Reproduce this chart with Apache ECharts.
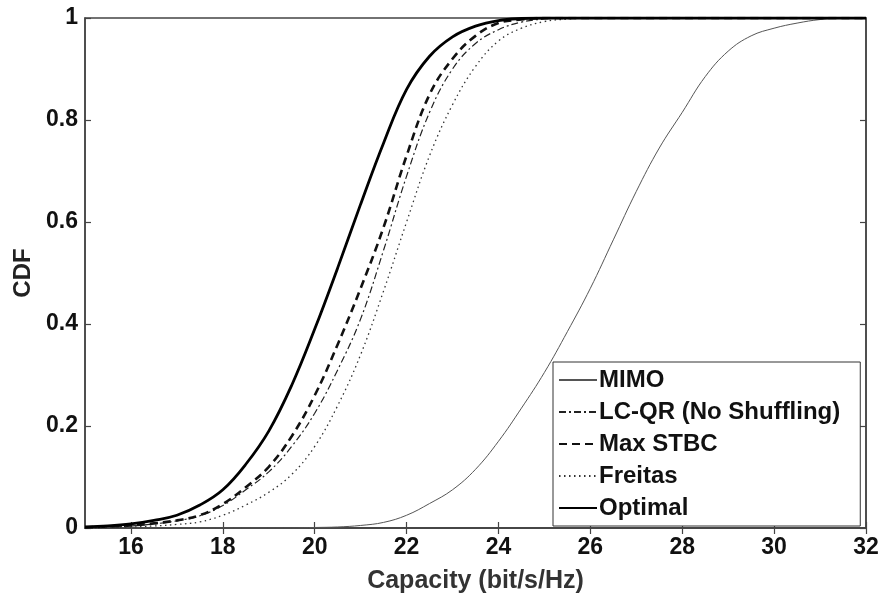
<!DOCTYPE html>
<html>
<head>
<meta charset="utf-8">
<script src="https://cdn.jsdelivr.net/npm/echarts@6/dist/echarts.min.js"></script>
<style>html,body{margin:0;padding:0;background:#fff}#c{width:886px;height:602px}</style>
</head>
<body>
<div id="c"></div>
<script>
// Tick labels
var xTicks = [16, 18, 20, 22, 24, 26, 28, 30, 32];
var yTicks = [0, 0.2, 0.4, 0.6, 0.8, 1];

// MIMO
var mimoX = [15, 19.5, 20, 20.5, 21, 21.5, 22, 22.5, 23, 23.5, 24, 24.5, 25, 25.5, 26, 26.5, 27, 27.5, 28, 28.5, 29, 29.5, 30, 30.5, 31, 31.5, 32];
var mimoY = [0, 0, 0.001, 0.002, 0.005, 0.011, 0.025, 0.048, 0.075, 0.115, 0.17, 0.235, 0.305, 0.385, 0.47, 0.565, 0.66, 0.745, 0.815, 0.885, 0.935, 0.965, 0.98, 0.99, 0.997, 1, 1];

// Common x grid for the four schemes
var schemeX = [15, 15.5, 16, 16.5, 17, 17.5, 18, 18.5, 19, 19.5, 20, 20.5, 21, 21.5, 22, 22.5, 23, 23.5, 24, 24.5, 25, 25.5, 26, 28, 32];
var lcqrY    = [0.001, 0.002, 0.004, 0.008, 0.014, 0.024, 0.044, 0.075, 0.11, 0.16, 0.225, 0.31, 0.41, 0.545, 0.69, 0.815, 0.9, 0.95, 0.977, 0.992, 0.998, 1, 1, 1, 1];
var stbcY    = [0.001, 0.003, 0.005, 0.009, 0.015, 0.025, 0.047, 0.08, 0.12, 0.18, 0.26, 0.36, 0.47, 0.59, 0.73, 0.85, 0.92, 0.965, 0.99, 0.997, 1, 1, 1, 1, 1];
var freitasY = [0, 0.001, 0.002, 0.004, 0.007, 0.012, 0.025, 0.045, 0.07, 0.105, 0.16, 0.24, 0.34, 0.465, 0.6, 0.73, 0.83, 0.905, 0.955, 0.98, 0.993, 0.998, 1, 1, 1];
var optimalY = [0.002, 0.004, 0.008, 0.015, 0.025, 0.045, 0.075, 0.125, 0.19, 0.28, 0.39, 0.51, 0.635, 0.755, 0.86, 0.925, 0.963, 0.984, 0.995, 0.999, 1, 1, 1, 1, 1];

var names = ['MIMO', 'LC-QR (No Shuffling)', 'Max STBC', 'Freitas', 'Optimal'];

function pairs(xs, ys) { return xs.map(function (x, i) { return [x, ys[i]]; }); }

var FONT = '"Liberation Sans", Arial, sans-serif';
var axisColor = '#444';

var chart = echarts.init(document.getElementById('c'), null, {renderer: 'canvas'});
function mkSeries(name, data, color, width, type) {
  return {
    name: name, type: 'line', data: data, symbol: 'none', showSymbol: false,
    smooth: 0.4, xAxisIndex: 0, yAxisIndex: 0,
    lineStyle: {color: color, width: width, type: type},
    itemStyle: {color: color},
    emphasis: {disabled: true}, animation: false, z: 3
  };
}
var option = {
  animation: false,
  backgroundColor: '#fff',
  grid: {left: 85, right: 20, top: 18, bottom: 74, show: true, borderColor: axisColor, borderWidth: 1.5, containLabel: false},
  xAxis: [{
    type: 'value', min: 15, max: 32, position: 'bottom',
    name: 'Capacity (bit/s/Hz)', nameLocation: 'middle', nameGap: 41,
    nameTextStyle: {fontFamily: FONT, fontSize: 25, fontWeight: 'bold', color: '#333'},
    axisLine: {show: true, lineStyle: {color: axisColor, width: 1.5}},
    axisTick: {show: true, inside: true, length: 6, customValues: xTicks, lineStyle: {color: axisColor, width: 1.2}},
    axisLabel: {customValues: xTicks, fontFamily: FONT, fontSize: 23, fontWeight: 'bold', color: '#111', margin: 8},
    splitLine: {show: false}
  }, {
    type: 'value', min: 15, max: 32, position: 'top',
    axisLine: {show: true, lineStyle: {color: axisColor, width: 1.5}},
    axisTick: {show: true, inside: true, length: 6, customValues: xTicks, lineStyle: {color: axisColor, width: 1.2}},
    axisLabel: {show: false}, splitLine: {show: false}
  }],
  yAxis: [{
    type: 'value', min: 0, max: 1, interval: 0.2, position: 'left',
    name: 'CDF', nameLocation: 'middle', nameGap: 46, nameRotate: 90,
    nameTextStyle: {fontFamily: FONT, fontSize: 24, fontWeight: 'bold', color: '#222'},
    axisLine: {show: true, lineStyle: {color: axisColor, width: 1.5}},
    axisTick: {show: true, inside: true, length: 6, lineStyle: {color: axisColor, width: 1.2}},
    axisLabel: {fontFamily: FONT, fontSize: 23, fontWeight: 'bold', color: '#111', margin: 7,
      formatter: function (v) { var i = yTicks.indexOf(Math.round(v * 10) / 10); return i >= 0 ? String(yTicks[i]) : ''; }},
    splitLine: {show: false}
  }, {
    type: 'value', min: 0, max: 1, interval: 0.2, position: 'right',
    axisLine: {show: true, lineStyle: {color: axisColor, width: 1.5}},
    axisTick: {show: true, inside: true, length: 6, lineStyle: {color: axisColor, width: 1.2}},
    axisLabel: {show: false}, splitLine: {show: false}
  }],
  legend: {
    orient: 'vertical', left: 553, top: 362,
    data: names,
    backgroundColor: '#fff', borderColor: '#333', borderWidth: 1,
    padding: [6, 20, 6, 5], itemWidth: 38, itemHeight: 24, itemGap: 8,
    itemStyle: {color: 'rgba(0,0,0,0)', borderColor: 'rgba(0,0,0,0)', borderWidth: 0},
    textStyle: {fontFamily: FONT, fontSize: 24, fontWeight: 'bold', color: '#111', lineHeight: 24, padding: [0, 0, 0, -3]},
    selectedMode: false
  },
  series: [
    mkSeries(names[0], pairs(mimoX, mimoY), '#555', 1, 'solid'),
    mkSeries(names[1], pairs(schemeX, lcqrY), '#222', 1.2, [7, 3, 2, 3]),
    mkSeries(names[2], pairs(schemeX, stbcY), '#111', 2.6, [8, 5]),
    mkSeries(names[3], pairs(schemeX, freitasY), '#333', 1.3, [1.5, 3.5]),
    mkSeries(names[4], pairs(schemeX, optimalY), '#000', 2.8, 'solid')
  ]
};
chart.setOption(option);
</script>
</body>
</html>
